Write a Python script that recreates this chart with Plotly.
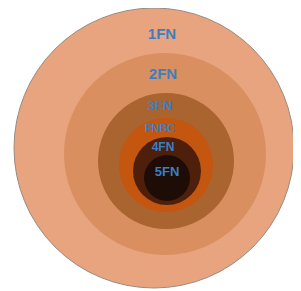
import plotly.graph_objects as go

labels = ["1FN", "2FN", "3FN", "FNBC", "4FN", "5FN"]
center_x = [154, 165, 166, 166, 167, 167]
center_y = [148, 154, 161, 165, 171, 178]
radius = [140, 101, 68, 47, 34, 23]
label_x = [162, 163, 160, 160, 163, 167]
label_y = [35, 75, 107, 129, 148, 173]
label_size = [15, 15, 13, 11, 12, 13]
colors = ["#E8A47E", "#D98F60", "#A9642F", "#C4560F", "#4E200C", "#1E0C06"]

fig = go.Figure()
for i, (cx, cy, r) in enumerate(zip(center_x, center_y, radius)):
    fig.add_shape(type="circle", xref="x", yref="y",
                  x0=cx - r, x1=cx + r, y0=cy - r, y1=cy + r,
                  fillcolor=colors[i],
                  line=dict(color="#9A8A80" if i == 0 else colors[i], width=1 if i == 0 else 0),
                  layer="below")

fig.add_trace(go.Scatter(x=label_x, y=label_y, mode="text", text=labels,
                         textfont=dict(family="Liberation Sans",
                                       size=label_size, color="#3B7FC2"),
                         texttemplate="<b>%{text}</b>", hoverinfo="skip"))

# page body has an 8px margin: offset the axis ranges so data units equal screen pixels
fig.update_xaxes(range=[8, 309], visible=False, fixedrange=True)
fig.update_yaxes(range=[299, 8], visible=False, fixedrange=True)
fig.update_layout(width=301, height=291, margin=dict(l=0, r=0, t=0, b=0),
                  paper_bgcolor="white", plot_bgcolor="white", showlegend=False)
fig.write_html("out.html")
